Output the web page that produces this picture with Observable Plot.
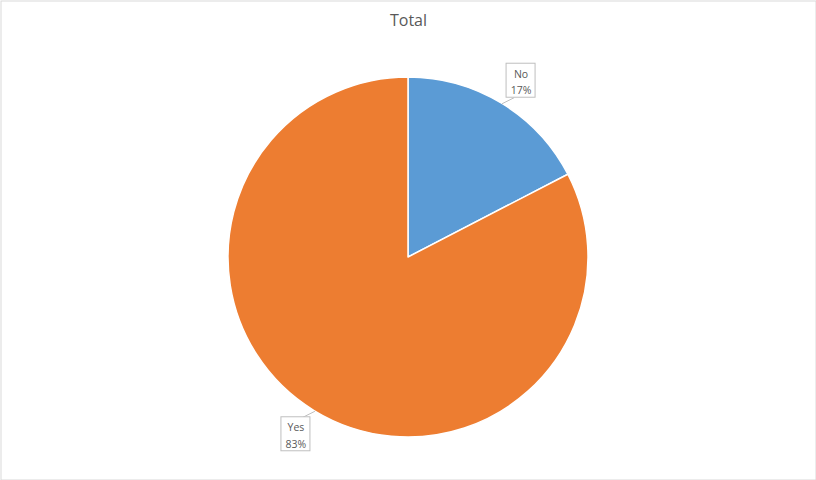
<!DOCTYPE html>
<html><head><meta charset="utf-8">
<script src="https://cdn.jsdelivr.net/npm/d3@7"></script>
<script src="https://cdn.jsdelivr.net/npm/@observablehq/plot@0.6"></script>
<style>html,body{margin:0;padding:0;background:#fff;}</style>
</head><body><div id="chart"></div>
<script>
const title = "Total";
const categories = ["No", "Yes"];
const values = [17.4, 82.6];
const colors = ["#5B9BD5", "#ED7D31"];

const W = 816, H = 480, R = 180, CX = 408, CY = 257;
const u = 1 / R;
const total = d3.sum(values);
const slices = categories.map((c, i) => ({category: c, value: values[i], color: colors[i]}));
const arcs = d3.pie().sort(null).value(d => d.value)(slices);

const labels = arcs.map(a => {
  const mid = (a.startAngle + a.endAngle) / 2;
  const ax = Math.sin(mid), ay = Math.cos(mid);
  const sx = Math.sign(ax), sy = Math.sign(ay);
  const cx = ax + sx * 19 * u, cy = ay + sy * 23 * u;
  return {
    label: `${a.data.category}\n${Math.round(a.data.value / total * 100)}%`,
    ax, ay, cx, cy,
    x1: cx - 14.5 * u, x2: cx + 14.5 * u, y1: cy - 17 * u, y2: cy + 17 * u,
    tx: cx - sx * 7 * u, ty: cy - sy * 17 * u
  };
});

function wedges(index, scales, vals, dimensions) {
  let cx, cy, r;
  if (scales && typeof scales.x === "function" && typeof scales.y === "function") {
    cx = scales.x(0); cy = scales.y(0); r = scales.x(1) - cx;
  } else {
    cx = CX; cy = CY; r = R;
  }
  const g = d3.create("svg:g").attr("transform", `translate(${cx},${cy})`);
  const arc = d3.arc().innerRadius(0).outerRadius(r);
  g.selectAll("path").data(arcs).join("path")
    .attr("d", arc)
    .attr("fill", d => d.data.color)
    .attr("stroke", "#fff")
    .attr("stroke-width", 1.5)
    .attr("stroke-linejoin", "round");
  return g.node();
}

const chart = Plot.plot({
  width: W, height: H, margin: 0,
  x: {domain: [-CX / R, (W - CX) / R], axis: null},
  y: {domain: [-(H - CY) / R, CY / R], axis: null},
  style: {fontFamily: "'Open Sans', sans-serif", background: "#fff"},
  marks: [
    Plot.frame({stroke: "#d9d9d9", inset: 0.5}),
    wedges,
    Plot.link(labels, {x1: "ax", y1: "ay", x2: "tx", y2: "ty", stroke: "#bfbfbf"}),
    Plot.rect(labels, {x1: "x1", x2: "x2", y1: "y1", y2: "y2", fill: "#fff", stroke: "#bfbfbf"}),
    Plot.text(labels, {x: "cx", y: "cy", text: "label", fill: "#595959", fontSize: 10.5, lineHeight: 1.55}),
    Plot.text([title], {frameAnchor: "top", dy: 14, fontSize: 16, fill: "#595959"})
  ]
});
document.getElementById("chart").appendChild(chart);
</script>
</body></html>
